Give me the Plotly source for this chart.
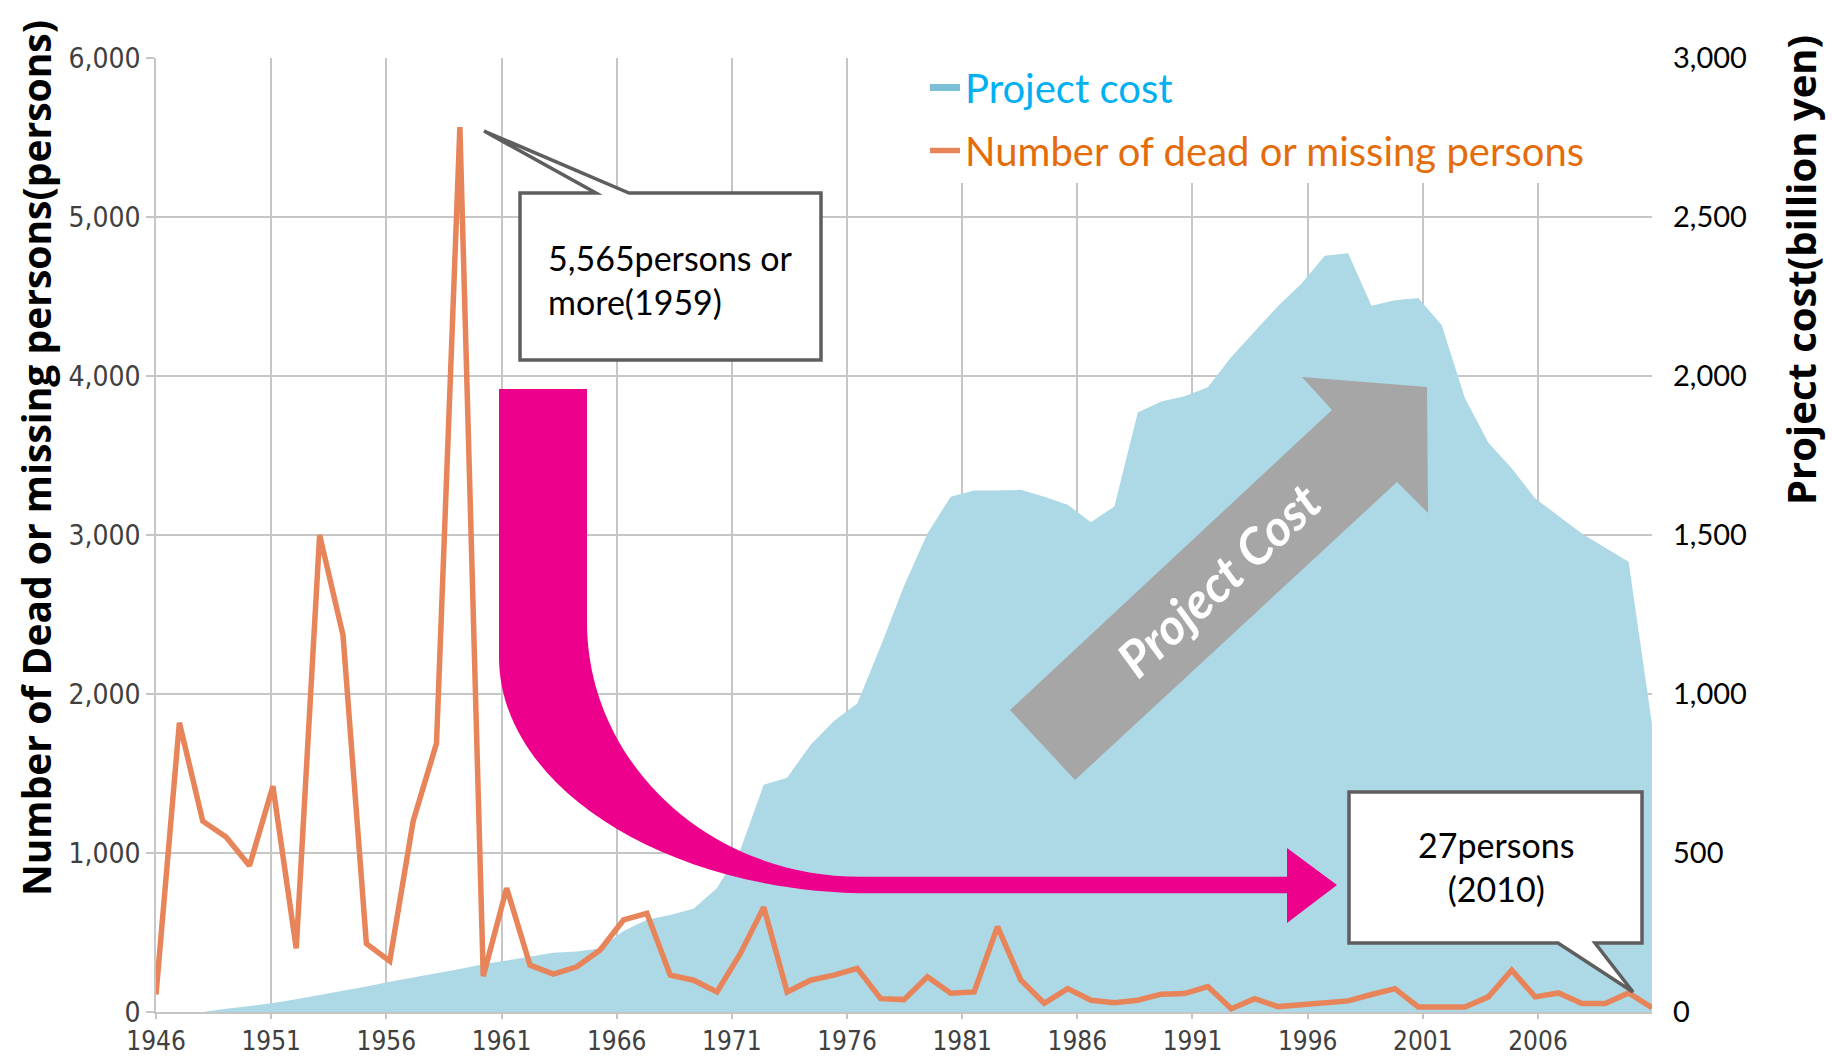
import plotly.graph_objects as go

# ---------------- data ----------------
years = list(range(1946, 2011))
dead_missing = [110, 1820, 1200, 1100, 920, 1420, 400, 3000, 2370, 430,
                320, 1200, 1690, 5565, 225, 779, 295, 238, 284, 390,
                579, 621, 232, 200, 126, 368, 659, 126, 200, 232,
                274, 84, 78, 221, 118, 126, 537, 200, 55, 147,
                74, 59, 74, 112, 116, 160, 21, 84, 34, 45,
                55, 70, 110, 147, 32, 32, 32, 95, 263, 95,
                120, 53, 53, 120, 27]
project_cost = [0, 0, 0, 10, 18, 28, 40, 53, 66, 80,
                95, 108, 122, 135, 150, 162, 175, 186, 190, 200,
                255, 290, 305, 325, 390, 510, 715, 737, 840, 915,
                970, 1150, 1340, 1505, 1620, 1640, 1640, 1642, 1620, 1595,
                1540, 1590, 1885, 1920, 1936, 1965, 2060, 2140, 2220, 2290,
                2378, 2386, 2221, 2238, 2245, 2160, 1930, 1790, 1710, 1615,
                1560, 1505, 1460, 1416, 905]
x_tick_years = list(range(1946, 2007, 5))
left_ticks = [0, 1000, 2000, 3000, 4000, 5000, 6000]
right_ticks = [0, 500, 1000, 1500, 2000, 2500, 3000]

# ---------------- layout geometry (pixels) ----------------
FIG_W, FIG_H = 1832, 1056
ML, MR, MT, MB = 156, 180, 58, 44
PW = FIG_W - ML - MR
PH = FIG_H - MT - MB


def P(x, y):
    return (x - ML) / PW, (MT + PH - y) / PH


def path(cmds):
    out = []
    for c in cmds:
        if isinstance(c, str):
            out.append(c)
        else:
            px, py = P(*c)
            out.append(f"{px:.5f},{py:.5f}")
    return " ".join(out)


ORANGE = "#E8845A"
BLUE_AREA = "#ADD8E6"
MAGENTA = "#EC008C"
GRAY_ARROW = "#A6A6A6"
GRID = "#C6C6C6"
TICK_FONT = dict(family="Liberation Sans Narrow, DejaVu Sans Condensed, Arial Narrow, sans-serif",
                 size=28, color="#404040")
XTICK_FONT = dict(TICK_FONT, size=26)

fig = go.Figure()

# legend proxy for the area series (also anchors the visible year axis)
fig.add_trace(go.Scatter(
    x=[None], y=[None], xaxis="x", yaxis="y", mode="lines",
    line=dict(color="#7DBFD6", width=7), legendgroup="a",
    name="<span style='color:#00B0F0'>Project cost</span>"))

# project cost area: data x-scale (x2) and right-hand cost axis (y)
fig.add_trace(go.Scatter(
    x=years, y=project_cost, xaxis="x2", yaxis="y",
    mode="lines", fill="tozeroy", fillcolor=BLUE_AREA,
    line=dict(width=0, color=BLUE_AREA), showlegend=False, hoverinfo="skip"))

# dead or missing persons: data x-scale (x2) and left-hand persons axis (y2)
fig.add_trace(go.Scatter(
    x=years, y=dead_missing, xaxis="x2", yaxis="y2", mode="lines",
    line=dict(color=ORANGE, width=5.5), legendgroup="b",
    name="<span style='color:#E46C0A'>Number of dead or missing persons</span>"))

shapes = []
# magenta bent arrow
shapes.append(dict(
    type="path", xref="paper", yref="paper", layer="above",
    fillcolor=MAGENTA, line=dict(width=0),
    path=path(["M", (499, 389), "L", (587, 389), "L", (587, 622),
               "C", (587, 762), (708, 876.7), (860, 876.7),
               "L", (1287, 876.7), "L", (1287, 848), "L", (1337, 885),
               "L", (1287, 923), "L", (1287, 893.3), "L", (873, 893.3),
               "C", (667, 893.3), (499, 787), (499, 657), "Z"])))
# gray diagonal arrow
shapes.append(dict(
    type="path", xref="paper", yref="paper", layer="above",
    fillcolor=GRAY_ARROW, line=dict(width=0),
    path=path(["M", (1010, 710), "L", (1332, 410), "L", (1302, 377),
               "L", (1427, 387), "L", (1428, 513), "L", (1397, 482),
               "L", (1075, 780), "Z"])))
# callout 1
shapes.append(dict(
    type="path", xref="paper", yref="paper", layer="above",
    fillcolor="white", line=dict(color="#5E5E5E", width=3.5),
    path=path(["M", (520, 193), "L", (596, 193), "L", (484, 131),
               "L", (629, 193), "L", (821, 193), "L", (821, 360),
               "L", (520, 360), "Z"])))
# callout 2
shapes.append(dict(
    type="path", xref="paper", yref="paper", layer="above",
    fillcolor="white", line=dict(color="#5E5E5E", width=3.5),
    path=path(["M", (1349, 792), "L", (1642, 792), "L", (1642, 943),
               "L", (1595, 943), "L", (1633, 992), "L", (1558, 943),
               "L", (1349, 943), "Z"])))

annotations = []


def ann(text, x, y, **kw):
    px, py = P(x, y)
    d = dict(text=text, x=px, y=py, xref="paper", yref="paper", showarrow=False)
    d.update(kw)
    annotations.append(d)


ann("5,565persons or<br>more(1959)", 546, 279, xanchor="left", yanchor="middle", align="left",
    font=dict(family="Lato, sans-serif", size=34, color="black"))
ann("27persons<br>(2010)", 1496, 866, xanchor="center", yanchor="middle", align="center",
    font=dict(family="Lato, sans-serif", size=34, color="black"))
ann("<b><i>Project Cost</i></b>", 1218, 580, xanchor="center", yanchor="middle",
    textangle=-43, font=dict(family="Lato, sans-serif", size=50, color="white"))
ann("<b>Number of Dead or missing persons(persons)</b>", 35, 458, xanchor="center", yanchor="middle",
    textangle=-90, font=dict(family="Open Sans, sans-serif", size=39, color="black"))
ann("<b>Project cost(billion yen)</b>", 1800, 270, xanchor="center", yanchor="middle",
    textangle=-90, font=dict(family="Open Sans, sans-serif", size=40, color="black"))

lx, ly = P(925, 55)

fig.update_layout(
    width=FIG_W, height=FIG_H,
    margin=dict(l=ML, r=MR, t=MT, b=MB, autoexpand=False),
    paper_bgcolor="white", plot_bgcolor="white",
    shapes=shapes, annotations=annotations,
    legend=dict(x=lx, y=ly, xanchor="left", yanchor="top", bgcolor="white",
                font=dict(family="Lato, sans-serif", size=40),
                traceorder="grouped", tracegroupgap=8, itemwidth=30),
    # visible year axis with gridlines
    xaxis=dict(range=[1946, 2010.95], tickvals=x_tick_years,
               ticktext=[str(v) for v in x_tick_years],
               showgrid=True, gridcolor=GRID, gridwidth=1.5,
               ticks="outside", ticklen=5, tickcolor=GRID, tickwidth=1.5,
               showline=True, linecolor=GRID, linewidth=1.5, automargin=False,
               zeroline=False, tickfont=XTICK_FONT),
    # data year scale (points span the full plot width)
    xaxis2=dict(range=[1946, 2010], overlaying="x", visible=False),
    # right: project cost (billion yen); provides the horizontal gridlines
    yaxis=dict(range=[0, 3000], side="right", tickvals=right_ticks,
               ticktext=[f"{v:,}" for v in right_ticks],
               showgrid=True, gridcolor=GRID, gridwidth=1.5, automargin=False,
               zeroline=False, showline=False, ticks="", ticklabelstandoff=20,
               tickfont=dict(family="Lato, sans-serif", size=29, color="black")),
    # left: dead or missing persons
    yaxis2=dict(range=[0, 6000], overlaying="y", side="left", tickvals=left_ticks,
                ticktext=[f"{v:,}" for v in left_ticks],
                showgrid=False, zeroline=False, automargin=False,
                ticks="outside", ticklen=8, tickcolor=GRID, tickwidth=1.5,
                showline=True, linecolor=GRID, linewidth=1.5,
                tickfont=TICK_FONT),
)

fig.write_html("out.html", config={"displayModeBar": False},
               post_script="document.body.style.margin='0';document.body.style.overflow='hidden';")
